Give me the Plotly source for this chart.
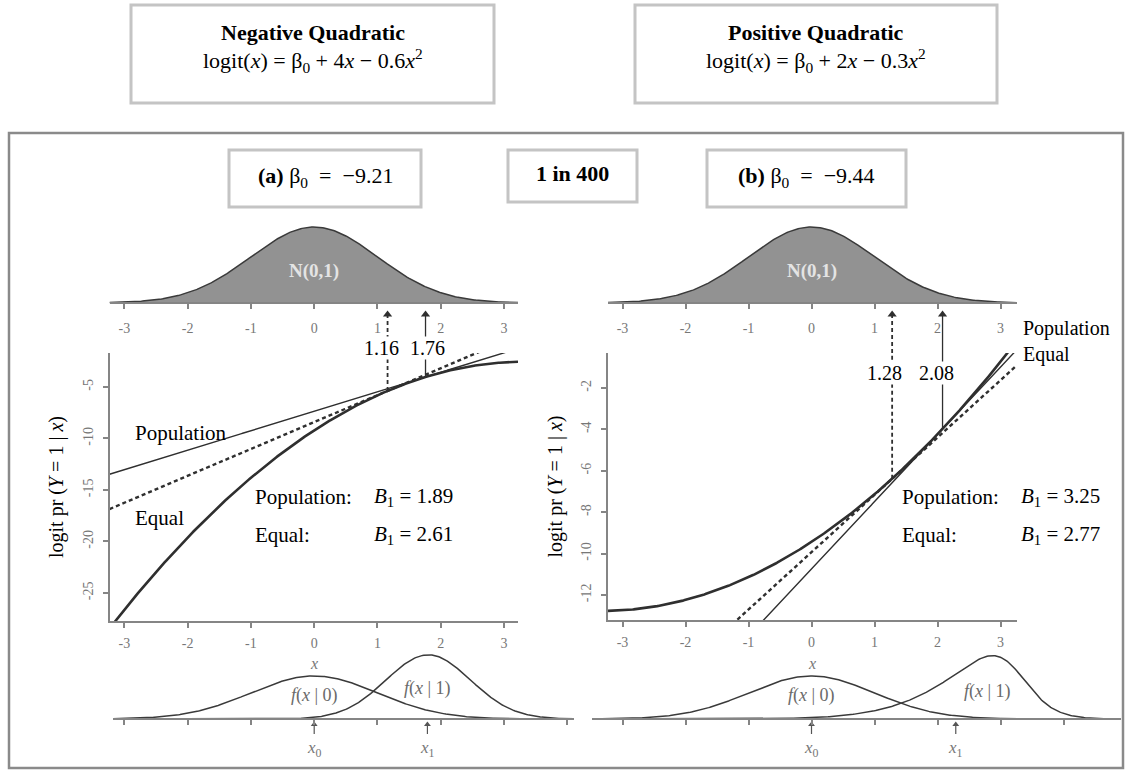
import numpy as np
import plotly.graph_objects as go

# ---------------- data ----------------
box_titles = ["Negative Quadratic", "Positive Quadratic"]
box_formulas = ["logit(<i>x</i>) = β<sub>0</sub> + 4<i>x</i> − 0.6<i>x</i><sup>2</sup>",
                "logit(<i>x</i>) = β<sub>0</sub> + 2<i>x</i> − 0.3<i>x</i><sup>2</sup>"]
panel_tags = ["(a)", "(b)"]
prevalence_label = "1 in 400"
beta0 = [-9.21, -9.44]
beta1 = [4.0, 2.0]
beta2 = [-0.6, 0.3]
pop_slope = [1.89, 3.25]
eq_slope = [2.61, 2.77]
pop_point = [1.76, 2.08]     # solid arrow (Population)
eq_point = [1.16, 1.28]      # dashed arrow (Equal)
x0_mark = [0.0, 0.0]
x1_mark = [1.79, 2.29]
f1_label_x = [1.79, 2.79]
x_ticks = [-3, -2, -1, 0, 1, 2, 3]
bottom_ticks = [-3, -2, -1, 0, 1, 2, 3, 4]
y_ticks = [[-25, -20, -15, -10, -5], [-12, -10, -8, -6, -4, -2]]
y_ranges = [[-27.72, -1.70], [-13.21, -0.31]]

# ---------------- layout constants (pixels) ----------------
W, H = 1126, 770
def px(v): return v / W
def py(v): return 1 - v / H

P = [
    dict(X0=314.2, U=63.25, main_x=(109.5, 518.0), bot_x=(113.0, 574.0), main_y=(353.0, 621.0),
         box=(131, 5, 494, 103), tagbox=(229, 150, 421, 207), ylab_x=56,
         pop_lab=(133, 433), eq_lab=(133, 518), txt_x=(253, 372),
         arr_lab_y=348, f1_lab_y=688, arrows_lab=(381, 427)),
    dict(X0=811.5, U=63.0, main_x=(608.0, 1017.0), bot_x=(592.0, 1121.0), main_y=(353.0, 620.0),
         box=(635, 5, 997, 103), tagbox=(707, 150, 906, 207), ylab_x=555,
         pop_lab=(1021, 331), eq_lab=(1021, 352), txt_x=(900, 1019),
         arr_lab_y=373, f1_lab_y=691, arrows_lab=(885, 936)),
]
TOP_DOM, TOP_BASE, TOP_SCALE = (218.0, 353.0), 303.0, 190.5
BOT_DOM, BOT_BASE, BOT_SCALE = (640.0, 762.0), 719.0, 107.8
ARROW_TIP = 311.0

LINE_C = "#2f2f2f"
AXIS_C = "#858585"
SERIF = "Liberation Serif"
TICK_FONT = dict(family=SERIF, size=14, color="#777777")

def phi(x):
    return np.exp(-0.5 * x ** 2) / np.sqrt(2 * np.pi)

def expit(z):
    return 1 / (1 + np.exp(-z))

def hy(vals):  # tick text with plain hyphen minus, as in the original
    return [str(v) for v in vals]

fig = go.Figure()
layout = dict(width=W, height=H, margin=dict(l=0, r=0, t=0, b=0, pad=0),
              paper_bgcolor="white", plot_bgcolor="white", showlegend=False)
shapes, annotations = [], []

def ann(**kw):
    d = dict(showarrow=False, xanchor="center", yanchor="middle")
    d.update(kw)
    annotations.append(d)

def top_y(pix):  # pixel -> top-density data value
    return (TOP_BASE - pix) / TOP_SCALE

def bot_y(pix):
    return (BOT_BASE - pix) / BOT_SCALE

for i in range(2):
    c = P[i]
    n = 3 * i
    xa_m, ya_m = f"x{n+1 if n else ''}", f"y{n+1 if n else ''}"
    xa_t, ya_t = f"x{n+2}", f"y{n+2}"
    xa_b, ya_b = f"x{n+3}", f"y{n+3}"
    key = lambda a: a[0] + "axis" + a[1:]

    xr_main = [(c["main_x"][0] - c["X0"]) / c["U"], (c["main_x"][1] - c["X0"]) / c["U"]]
    xr_bot = [(c["bot_x"][0] - c["X0"]) / c["U"], (c["bot_x"][1] - c["X0"]) / c["U"]]

    common_x = dict(showgrid=False, zeroline=False, showline=True, linecolor=AXIS_C, linewidth=2,
                    ticks="outside", ticklen=5, tickwidth=1.5, tickcolor=AXIS_C, tickfont=TICK_FONT)
    layout[key(xa_m)] = dict(common_x, domain=[px(c["main_x"][0]), px(c["main_x"][1])], range=xr_main,
                             anchor=ya_m, tickvals=x_ticks, ticktext=hy(x_ticks), ticklabelstandoff=3)
    layout[key(ya_m)] = dict(showgrid=False, zeroline=False, showline=True, linecolor=AXIS_C, linewidth=2,
                             ticks="outside", ticklen=5, tickwidth=1.5, tickcolor=AXIS_C, tickfont=TICK_FONT,
                             domain=[py(c["main_y"][1]), py(c["main_y"][0])], range=y_ranges[i],
                             anchor=xa_m, tickvals=y_ticks[i], ticktext=hy(y_ticks[i]),
                             tickangle=-90, ticklabelstandoff=4)
    layout[key(xa_t)] = dict(common_x, domain=[px(c["main_x"][0]), px(c["main_x"][1])], range=xr_main,
                             anchor="free", position=py(TOP_BASE), tickvals=x_ticks, ticktext=hy(x_ticks),
                             ticklabelstandoff=7)
    layout[key(ya_t)] = dict(visible=False, anchor=xa_t, domain=[py(TOP_DOM[1]), py(TOP_DOM[0])],
                             range=[top_y(TOP_DOM[1]), top_y(TOP_DOM[0])])
    layout[key(xa_b)] = dict(common_x, domain=[px(c["bot_x"][0]), px(c["bot_x"][1])], range=xr_bot,
                             anchor="free", position=py(BOT_BASE), tickvals=bottom_ticks,
                             showticklabels=False)
    layout[key(ya_b)] = dict(visible=False, anchor=xa_b, domain=[py(BOT_DOM[1]), py(BOT_DOM[0])],
                             range=[bot_y(BOT_DOM[1]), bot_y(BOT_DOM[0])])

    eta = lambda x: beta0[i] + beta1[i] * x + beta2[i] * x ** 2

    # top N(0,1) density
    g = np.linspace(xr_main[0], xr_main[1], 300)
    fig.add_trace(go.Scatter(x=g, y=phi(g), mode="lines", fill="tozeroy", fillcolor="#929292",
                             line=dict(color="#3a3a3a", width=1.5), xaxis=xa_t, yaxis=ya_t, hoverinfo="skip"))

    # main plot: true curve + tangent lines
    gm = np.linspace(xr_main[0], xr_main[1], 400)
    fig.add_trace(go.Scatter(x=gm, y=eta(gm), mode="lines", line=dict(color=LINE_C, width=2.6),
                             xaxis=xa_m, yaxis=ya_m, hoverinfo="skip"))
    ep, pp = eq_point[i], pop_point[i]
    fig.add_trace(go.Scatter(x=gm, y=eta(pp) + pop_slope[i] * (gm - pp), mode="lines",
                             line=dict(color=LINE_C, width=1.4), xaxis=xa_m, yaxis=ya_m, hoverinfo="skip"))
    fig.add_trace(go.Scatter(x=gm, y=eta(ep) + eq_slope[i] * (gm - ep), mode="lines",
                             line=dict(color=LINE_C, width=2.4, dash="4px,3px"),
                             xaxis=xa_m, yaxis=ya_m, hoverinfo="skip"))

    # vertical arrows from tangent points up to the N(0,1) axis
    for t, dsh, wd in [(ep, "4px,3px", 1.8), (pp, "solid", 1.3)]:
        fig.add_trace(go.Scatter(x=[t, t], y=[eta(t), y_ranges[i][1]], mode="lines",
                                 line=dict(color=LINE_C, width=wd, dash=dsh),
                                 xaxis=xa_m, yaxis=ya_m, hoverinfo="skip"))
        fig.add_trace(go.Scatter(x=[t, t], y=[top_y(TOP_DOM[1]), top_y(ARROW_TIP + 4)], mode="lines",
                                 line=dict(color=LINE_C, width=wd, dash=dsh),
                                 xaxis=xa_t, yaxis=ya_t, hoverinfo="skip"))
        fig.add_trace(go.Scatter(x=[t], y=[top_y(ARROW_TIP + 3.5)], mode="markers",
                                 marker=dict(symbol="triangle-up", size=8, color=LINE_C),
                                 cliponaxis=False, xaxis=xa_t, yaxis=ya_t, hoverinfo="skip"))
    for t, lx in [(ep, c["arrows_lab"][0]), (pp, c["arrows_lab"][1])]:
        ann(x=px(lx), y=py(c["arr_lab_y"]), xref="paper", yref="paper",
            text=f"{t:.2f}", bgcolor="white", borderpad=0,
            font=dict(family=SERIF, size=20, color="black"))

    # bottom conditional densities
    gb = np.linspace(xr_bot[0], xr_bot[1], 400)
    gw = np.linspace(-10, 10, 8001)
    prev = np.trapezoid(phi(gw) * expit(eta(gw)), gw)
    fig.add_trace(go.Scatter(x=gb, y=phi(gb), mode="lines", line=dict(color="#3a3a3a", width=1.5),
                             xaxis=xa_b, yaxis=ya_b, hoverinfo="skip"))
    fig.add_trace(go.Scatter(x=gb, y=phi(gb) * expit(eta(gb)) / prev, mode="lines",
                             line=dict(color="#3a3a3a", width=1.5), xaxis=xa_b, yaxis=ya_b, hoverinfo="skip"))
    for xm, lab in [(x0_mark[i], "<i>x</i><sub>0</sub>"), (x1_mark[i], "<i>x</i><sub>1</sub>")]:
        fig.add_trace(go.Scatter(x=[xm, xm], y=[bot_y(734), bot_y(725)], mode="lines",
                                 line=dict(color="#555", width=1.2), xaxis=xa_b, yaxis=ya_b,
                                 hoverinfo="skip"))
        fig.add_trace(go.Scatter(x=[xm], y=[bot_y(724.5)], mode="markers",
                                 marker=dict(symbol="triangle-up", size=6, color="#555"),
                                 cliponaxis=False, xaxis=xa_b, yaxis=ya_b, hoverinfo="skip"))
        ann(x=xm, y=bot_y(749), xref=xa_b, yref=ya_b, text=lab,
            font=dict(family=SERIF, size=17, color="#777"))

    # density labels
    ann(x=0, y=top_y(271), xref=xa_t, yref=ya_t, text="<b>N(0,1)</b>",
        font=dict(family=SERIF, size=19, color="#e4e4e4"))
    ann(x=0, y=bot_y(695), xref=xa_b, yref=ya_b, text="<i>f</i>(<i>x</i> | 0)",
        font=dict(family=SERIF, size=18, color="#6a6a6a"))
    ann(x=f1_label_x[i], y=bot_y(c["f1_lab_y"]), xref=xa_b, yref=ya_b,
        text="<i>f</i>(<i>x</i> | 1)", font=dict(family=SERIF, size=18, color="#6a6a6a"))
    ann(x=0, y=py(663), xref=xa_m, yref="paper", text="<i>x</i>",
        font=dict(family=SERIF, size=16, color="#777"))

    # axis title
    ann(x=px(c["ylab_x"]), y=py((c["main_y"][0] + c["main_y"][1]) / 2),
        xref="paper", yref="paper", textangle=-90,
        text="logit pr (<i>Y</i> = 1 | <i>x</i>)",
        font=dict(family=SERIF, size=20, color="black"))

    # in-plot text
    if i == 0:
        ann(x=px(c["pop_lab"][0]), y=py(c["pop_lab"][1]), xref="paper", yref="paper",
            xanchor="left", text="Population", font=dict(family=SERIF, size=21, color="black"))
        ann(x=px(c["eq_lab"][0]), y=py(c["eq_lab"][1]), xref="paper", yref="paper",
            xanchor="left", text="Equal", font=dict(family=SERIF, size=21, color="black"))
    else:
        ann(x=px(c["pop_lab"][0]), y=py((c["pop_lab"][1] + c["eq_lab"][1]) / 2), xref="paper",
            yref="paper", xanchor="left", align="left", text="Population<br>Equal",
            font=dict(family=SERIF, size=20, color="black"))
    for lab, val, yy in [("Population:", pop_slope[i], 497), ("Equal:", eq_slope[i], 535)]:
        ann(x=px(c["txt_x"][0]), y=py(yy), xref="paper", yref="paper", xanchor="left",
            text=lab, font=dict(family=SERIF, size=21, color="black"))
        ann(x=px(c["txt_x"][1]), y=py(yy), xref="paper", yref="paper", xanchor="left",
            text=f"<i>B</i><sub>1</sub> = {val:.2f}",
            font=dict(family=SERIF, size=21, color="black"))

    # boxes
    bx = c["box"]
    shapes.append(dict(type="rect", xref="paper", yref="paper", x0=px(bx[0]), x1=px(bx[2]),
                       y0=py(bx[3]), y1=py(bx[1]), line=dict(color="#c4c4c4", width=3)))
    cx = (bx[0] + bx[2]) / 2
    ann(x=px(cx), y=py(32), xref="paper", yref="paper",
        text=f"<b>{box_titles[i]}</b>", font=dict(family=SERIF, size=22, color="black"))
    ann(x=px(cx), y=py(61), xref="paper", yref="paper",
        text=box_formulas[i], font=dict(family=SERIF, size=22, color="black"))
    tb = c["tagbox"]
    shapes.append(dict(type="rect", xref="paper", yref="paper", x0=px(tb[0]), x1=px(tb[2]),
                       y0=py(tb[3]), y1=py(tb[1]), line=dict(color="#c4c4c4", width=3)))
    ann(x=px((tb[0] + tb[2]) / 2), y=py(177), xref="paper", yref="paper",
        text=f"<b>{panel_tags[i]}</b> β<sub>0</sub>  =  −{abs(beta0[i]):.2f}",
        font=dict(family=SERIF, size=22, color="black"))

# centre box and outer frame
shapes.append(dict(type="rect", xref="paper", yref="paper", x0=px(508), x1=px(637), y0=py(202), y1=py(150),
                   line=dict(color="#c4c4c4", width=3)))
ann(x=px(572.5), y=py(174), xref="paper", yref="paper",
    text=f"<b>{prevalence_label}</b>", font=dict(family=SERIF, size=22, color="black"))
shapes.append(dict(type="rect", xref="paper", yref="paper", x0=px(9), x1=px(1123), y0=py(768), y1=py(133),
                   line=dict(color="#8a8a8a", width=2.5)))

layout["shapes"] = shapes
layout["annotations"] = annotations
fig.update_layout(**layout)
fig.write_html("out.html", config={"displayModeBar": False},
               post_script="document.body.style.margin='0';document.body.style.padding='0';")
